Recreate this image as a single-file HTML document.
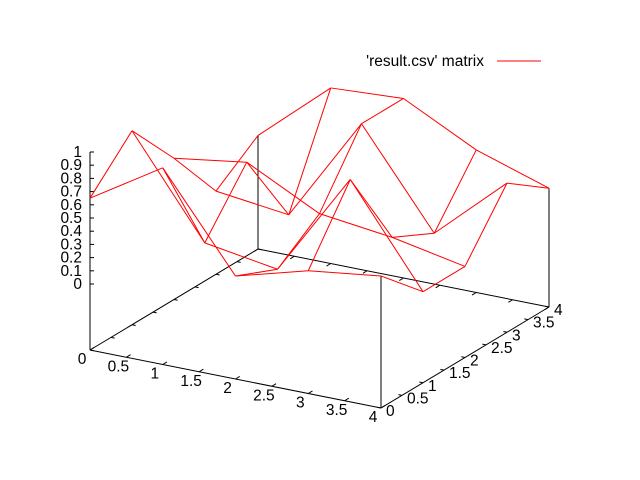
<!DOCTYPE html>
<html><head><meta charset="utf-8"><style>
html,body{margin:0;padding:0;background:#fff;}
svg{display:block;font-family:"Liberation Sans",sans-serif;font-size:15.5px;}
</style></head><body>
<svg id="chart" width="640" height="480" viewBox="0 0 640 480">
<rect width="640" height="480" fill="#fff"/>
<g id="axes"></g>
<g id="surface"></g>
<g id="legend">
<text x="484" y="66" text-anchor="end" fill="#000">'result.csv' matrix</text>
<line x1="497" y1="61" x2="541" y2="61" stroke="#f00" stroke-width="1"/>
</g>
</svg>
<script>
// data: z values, rows = y index, columns = x index
const row0 = [0.65, 0.99, 0.28, 0.43, 0.50];
const row1 = [0.97, 0.23, 0.14, 0.93, 0.19];
const row2 = [0.57, 0.65, 0.37, 0.30, 0.19];
const row3 = [0.13, 0.06, 0.86, 0.14, 0.63];
const row4 = [0.36, 0.83, 0.86, 0.58, 0.40];
const zRows = [row0, row1, row2, row3, row4];
const xTicks = ["0","0.5","1","1.5","2","2.5","3","3.5","4"];
const yTicks = ["0","0.5","1","1.5","2","2.5","3","3.5","4"];
const zTicks = ["0","0.1","0.2","0.3","0.4","0.5","0.6","0.7","0.8","0.9","1"];

const NS = "http://www.w3.org/2000/svg";
function P(x, y, z) { // projection
  return [90 + 72.75 * x + 42 * y, 350 + 14.5 * x - 25.25 * y - 66 - 132 * z];
}
function B(x, y) { return [90 + 72.75 * x + 42 * y, 350 + 14.5 * x - 25.25 * y]; }
function line(g, a, b, color, name) {
  const l = document.createElementNS(NS, "line");
  l.setAttribute("x1", a[0]); l.setAttribute("y1", a[1]);
  l.setAttribute("x2", b[0]); l.setAttribute("y2", b[1]);
  l.setAttribute("stroke", color); l.setAttribute("stroke-width", "1");
  
  
  g.appendChild(l);
}
function text(g, x, y, s, anchor, name) {
  const t = document.createElementNS(NS, "text");
  t.setAttribute("x", x); t.setAttribute("y", y);
  t.setAttribute("text-anchor", anchor); t.setAttribute("fill", "#000");
  t.textContent = s;
  
  
  g.appendChild(t);
}
const ax = document.getElementById("axes");
line(ax, B(0,0), B(4,0), "#000", "x-axis-front");
line(ax, B(4,0), B(4,4), "#000", "y-axis-right");
line(ax, B(0,0), B(0,4), "#000", "y-axis-left");
line(ax, B(0,4), B(4,4), "#000", "x-axis-back");
line(ax, B(0,0), P(0,0,1), "#000", "z-axis");
line(ax, B(0,4), P(0,4,zRows[4][0]), "#000", "back-left-vertical");
line(ax, B(4,0), P(4,0,zRows[0][4]), "#000", "front-right-vertical");
line(ax, B(4,4), P(4,4,zRows[4][4]), "#000", "back-right-vertical");
xTicks.forEach((s, i) => {
  const v = i * 0.5;
  const a = B(v, 0);
  line(ax, a, B(v, 0.1), "#000", "x-tick");
  const c = B(v, 4);
  line(ax, c, B(v, 3.9), "#000", "x-tick-mirror");
  text(ax, a[0] - 8, a[1] + 14, s, "middle", "x-tick-label");
});
yTicks.forEach((s, i) => {
  const v = i * 0.5;
  const a = B(4, v);
  line(ax, a, B(3.95, v), "#000", "y-tick");
  const c = B(0, v);
  line(ax, c, B(0.05, v), "#000", "y-tick-mirror");
  text(ax, a[0] + 5, a[1] + 8, s, "start", "y-tick-label");
});
zTicks.forEach((s, i) => {
  const v = i * 0.1;
  const a = P(0, 0, v);
  line(ax, a, [a[0] + 4, a[1]], "#000", "z-tick");
  text(ax, a[0] - 8, a[1] + 5, s, "end", "z-tick-label");
});
const sg = document.getElementById("surface");
for (let j = 0; j < zRows.length; j++) {
  for (let i = 0; i < zRows[j].length; i++) {
    if (i + 1 < zRows[j].length)
      line(sg, P(i, j, zRows[j][i]), P(i + 1, j, zRows[j][i + 1]), "#f00", "mesh-segment-x");
    if (j + 1 < zRows.length)
      line(sg, P(i, j, zRows[j][i]), P(i, j + 1, zRows[j + 1][i]), "#f00", "mesh-segment-y");
  }
}
</script>
</body></html>
